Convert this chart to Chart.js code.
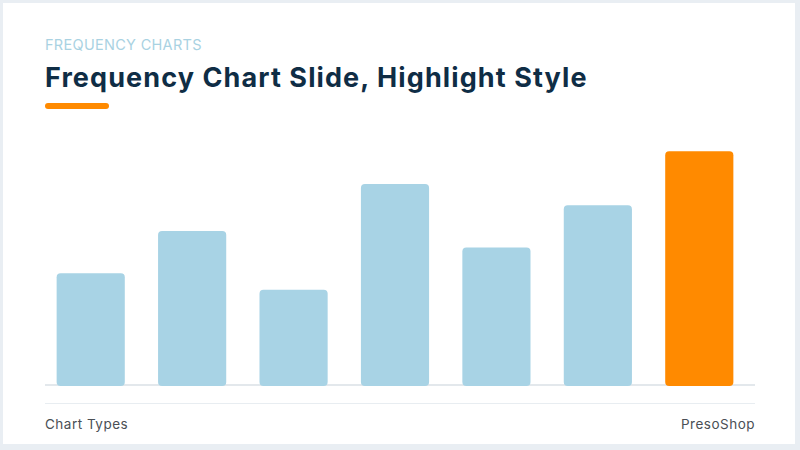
<!DOCTYPE html>
<html>
<head>
<meta charset="utf-8">
<script src="https://cdn.jsdelivr.net/npm/chart.js@4"></script>
<style>
  html, body { margin: 0; padding: 0; }
  body { width: 800px; height: 450px; background: #e9eef3; font-family: "Inter", "Open Sans", sans-serif; }
  .card { position: absolute; left: 3px; top: 3px; width: 792px; height: 441px; background: #fff; }
  .kicker { position: absolute; left: 45px; top: 36px; font-size: 14.5px; color: #a9d2e2; letter-spacing: 0.3px; }
  .title { position: absolute; left: 45px; top: 61px; font-size: 27px; font-weight: 700; color: #0f2d45; letter-spacing: 1.1px; }
  .accent { position: absolute; left: 45px; top: 103px; width: 64px; height: 6px; border-radius: 3px; background: #ff8a00; }
  .base { position: absolute; left: 45px; top: 384px; width: 710px; height: 2px; background: #e3e8ec; }
  .sep { position: absolute; left: 45px; top: 403px; width: 710px; height: 1px; background: #e8edf1; }
  .foot { position: absolute; top: 416px; font-size: 13.5px; color: #4a4f55; letter-spacing: 0.5px; }
  #wrap { position: absolute; left: 40px; top: 130px; width: 710px; height: 256px; }
</style>
</head>
<body>
<div class="card"></div>
<div class="kicker">FREQUENCY CHARTS</div>
<div class="title">Frequency Chart Slide, Highlight Style</div>
<div class="accent"></div>
<div class="base"></div>
<div class="sep"></div>
<div class="foot" style="left:45px">Chart Types</div>
<div class="foot" style="right:45px">PresoShop</div>
<div id="wrap"><canvas id="chart"></canvas></div>
<script>
// Values (relative frequency, tallest = 100)
const categories = ['A', 'B', 'C', 'D', 'E', 'F', 'G'];
const values = [48, 66, 41, 86, 59, 77, 100];
const highlightIndex = 6;

const baseColor = '#a8d3e5';
const highlightColor = '#ff8a00';

const ctx = document.getElementById('chart').getContext('2d');
new Chart(ctx, {
    type: 'bar',
    data: {
        labels: categories,
        datasets: [{
            data: values,
            backgroundColor: values.map((v, i) => i === highlightIndex ? highlightColor : baseColor),
            borderRadius: 4,
            borderSkipped: false,
            categoryPercentage: 0.84,
            barPercentage: 0.8
        }]
    },
    options: {
        responsive: true,
        maintainAspectRatio: false,
        animation: false,
        layout: { padding: 0 },
        plugins: { legend: { display: false }, tooltip: { enabled: false } },
        scales: {
            x: { display: false },
            y: { display: false, min: 0, max: 109 }
        }
    }
});
</script>
</body>
</html>
